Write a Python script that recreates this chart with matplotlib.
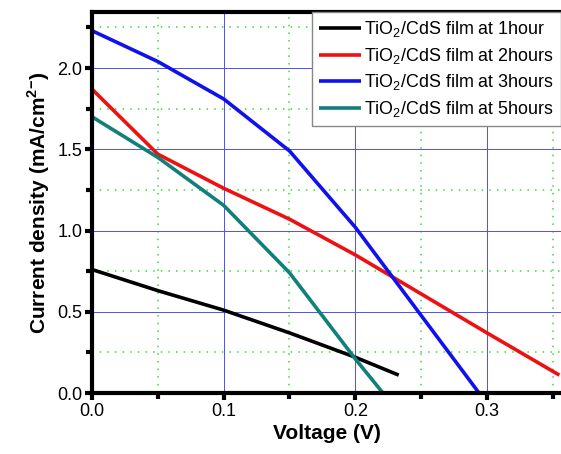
import matplotlib
matplotlib.use("Agg")
import matplotlib.pyplot as plt
from matplotlib.ticker import MultipleLocator, FormatStrFormatter

plt.rcParams['font.family'] = ['Liberation Sans', 'DejaVu Sans']
plt.rcParams['mathtext.fontset'] = 'custom'
plt.rcParams['mathtext.rm'] = 'Liberation Sans'
plt.rcParams['mathtext.bf'] = 'Liberation Sans:bold'

# J-V curves of TiO2/CdS films for different deposition times
v_1h = [0.0, 0.05, 0.10, 0.15, 0.20, 0.233]
j_1h = [0.76, 0.63, 0.51, 0.37, 0.22, 0.11]

v_2h = [0.0, 0.05, 0.10, 0.15, 0.20, 0.25, 0.30, 0.355]
j_2h = [1.87, 1.47, 1.26, 1.07, 0.85, 0.61, 0.37, 0.11]

v_3h = [0.0, 0.05, 0.10, 0.15, 0.20, 0.294]
j_3h = [2.23, 2.04, 1.81, 1.49, 1.02, 0.0]

v_5h = [0.0, 0.05, 0.10, 0.15, 0.20, 0.221]
j_5h = [1.70, 1.45, 1.155, 0.74, 0.21, 0.0]

labels = ["TiO$_2$/CdS film at 1hour", "TiO$_2$/CdS film at 2hours",
          "TiO$_2$/CdS film at 3hours", "TiO$_2$/CdS film at 5hours"]
colors = ["#000000", "#ee1111", "#1111ee", "#11807a"]

fig = plt.figure(figsize=(5.61, 4.54), dpi=100)
W, H = 561, 454
x0, x1 = 92, 562
y0, y1 = 393, 12
ax = fig.add_axes([x0 / W, 1 - y0 / H, (x1 - x0) / W, (y0 - y1) / H])

for v, j, lab, c in zip([v_1h, v_2h, v_3h, v_5h], [j_1h, j_2h, j_3h, j_5h], labels, colors):
    ax.plot(v, j, color=c, lw=2.6, label=lab, solid_capstyle='butt')

ax.set_xlim(0, 0.357)
ax.set_ylim(0, 2.345)
ax.xaxis.set_major_locator(MultipleLocator(0.1))
ax.xaxis.set_minor_locator(MultipleLocator(0.05))
ax.yaxis.set_major_locator(MultipleLocator(0.5))
ax.yaxis.set_minor_locator(MultipleLocator(0.25))
ax.xaxis.set_major_formatter(FormatStrFormatter('%.1f'))
ax.yaxis.set_major_formatter(FormatStrFormatter('%.1f'))

ax.grid(which='major', color='#5050ee', lw=0.7, ls='-')
ax.grid(which='minor', color='#33dd33', lw=1.1, ls=(0, (1, 4)))
ax.set_axisbelow(True)

for s in ['left', 'bottom', 'top']:
    ax.spines[s].set_linewidth(3)
ax.spines['right'].set_visible(False)

ax.tick_params(which='major', direction='out', length=5, width=3, labelsize=13, pad=2)
ax.tick_params(which='minor', direction='out', length=4, width=3)

ax.set_xlabel("Voltage (V)", fontsize=15, fontweight='bold', labelpad=3)
ax.set_ylabel("Current density (mA/cm$^{\\mathbf{2}}$$^{\\mathbf{-}}$)", fontsize=15,
              fontweight='bold', labelpad=4)

leg = ax.legend(loc='upper left', bbox_to_anchor=(312 / W, 1 - 12 / H),
                bbox_transform=fig.transFigure, fontsize=12.9, frameon=True,
                fancybox=False, edgecolor='#888888', framealpha=1,
                handlelength=2.35, handletextpad=0.15, borderpad=0.4,
                labelspacing=0.37, borderaxespad=0)
leg.get_frame().set_linewidth(1.0)

fig.savefig("out.png", dpi=100)
